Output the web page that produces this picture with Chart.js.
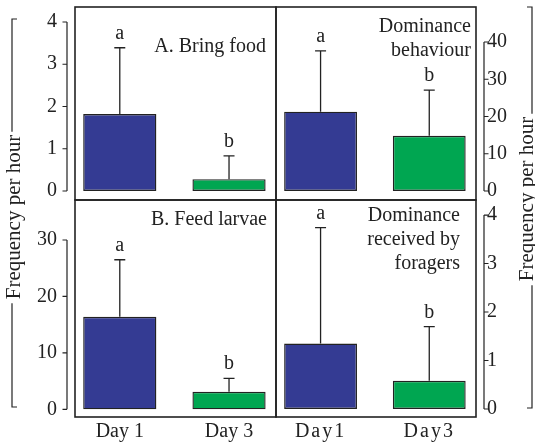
<!DOCTYPE html>
<html>
<head>
<meta charset="utf-8">
<script src="https://cdn.jsdelivr.net/npm/chart.js@4.4.1/dist/chart.umd.min.js"></script>
<style>
  html, body { margin: 0; padding: 0; background: #ffffff; }
  #wrap { position: relative; width: 535px; height: 442px; overflow: hidden; }
  #wrap canvas { position: absolute; left: 0; top: 0; }
</style>
</head>
<body>
<div id="wrap">
  <canvas id="panelA" width="535" height="442"></canvas>
  <canvas id="panelDom" width="535" height="442"></canvas>
  <canvas id="panelB" width="535" height="442"></canvas>
  <canvas id="panelRecv" width="535" height="442"></canvas>
</div>
<script>
// ---- data ----
const days = ['Day 1', 'Day 3'];
const daysTight = ['Day1', 'Day3'];
const groupLetters = ['a', 'b'];

const bringFood = [1.82, 0.28];
const bringFoodUpper = [3.39, 0.83];

const dominance = [21.3, 14.8];
const dominanceUpper = [37.6, 27.1];

const feedLarvae = [16.4, 3.1];
const feedLarvaeUpper = [26.5, 5.5];

const domReceived = [1.35, 0.58];
const domReceivedUpper = [3.74, 1.70];

const ticksBring = [0, 1, 2, 3, 4];
const ticksDom = [0, 10, 20, 30, 40];
const ticksFeed = [0, 10, 20, 30];
const ticksRecv = [0, 1, 2, 3, 4];

// ---- styling ----
const INK = '#222222';
const BLUE = '#343b93';
const GREEN = '#00a651';
const FONT = '"Liberation Serif", "Times New Roman", serif';
const W = 535, H = 442;

// frame, error bars, letters, axis spine and in-panel titles
const decor = {
  id: 'decor',
  afterDatasetsDraw(chart, args, o) {
    const ctx = chart.ctx;
    const area = chart.chartArea;
    const ys = chart.scales.y;
    const meta = chart.getDatasetMeta(0);
    ctx.save();
    ctx.letterSpacing = '0px';
    ctx.strokeStyle = INK;
    ctx.fillStyle = INK;

    // error bars and significance letters
    ctx.lineWidth = 1.3;
    ctx.font = '20px ' + FONT;
    ctx.textAlign = 'center';
    ctx.textBaseline = 'alphabetic';
    meta.data.forEach((bar, i) => {
      const top = ys.getPixelForValue(o.upper[i]);
      ctx.beginPath();
      ctx.moveTo(bar.x, bar.y);
      ctx.lineTo(bar.x, top);
      ctx.moveTo(bar.x - 5.5, top);
      ctx.lineTo(bar.x + 5.5, top);
      ctx.stroke();
      ctx.fillText(o.letters[i], bar.x, top - 9);
    });

    // panel frame
    ctx.lineWidth = 1.6;
    ctx.strokeRect(area.left, area.top, area.width, area.height);

    // free-standing axis spine with tick marks
    const t = o.ticks;
    const yTop = ys.getPixelForValue(t[t.length - 1]);
    const yBot = ys.getPixelForValue(t[0]);
    const ax = o.side === 'left' ? area.left - 8 : area.right + 8;
    const dir = o.side === 'left' ? -1 : 1;
    ctx.lineWidth = 1.2;
    ctx.beginPath();
    ctx.moveTo(ax, yTop);
    ctx.lineTo(ax, yBot);
    t.forEach(v => {
      const py = ys.getPixelForValue(v);
      ctx.moveTo(ax, py);
      ctx.lineTo(ax + dir * 4.5, py);
    });
    ctx.stroke();

    // panel title, right aligned inside the frame
    ctx.textAlign = 'right';
    ctx.textBaseline = 'middle';
    o.title.forEach((line, k) => {
      ctx.fillText(line, area.right - o.titleInset, area.top + o.titleTop + k * 24);
    });
    ctx.restore();
  }
};

// wider letter spacing for the compact day labels
const spacedText = {
  id: 'spacedText',
  beforeDraw(chart, args, o) { chart.ctx.letterSpacing = o.spacing || '0px'; },
  afterDraw(chart) { chart.ctx.letterSpacing = '0px'; }
};

// bracketed "Frequency per hour" labels on both sides of the figure
const sideLabels = {
  id: 'sideLabels',
  afterDraw(chart) {
    const ctx = chart.ctx;
    ctx.save();
    ctx.letterSpacing = '0px';
    ctx.strokeStyle = INK;
    ctx.fillStyle = INK;
    ctx.lineWidth = 1.2;
    ctx.font = '21px ' + FONT;
    const label = 'Frequency per hour';
    const len = ctx.measureText(label).width;

    const drawSide = (lineX, baseX, top, bottom, centerY, hook) => {
      const t0 = centerY - len / 2, t1 = centerY + len / 2;
      ctx.beginPath();
      ctx.moveTo(lineX + hook, top);
      ctx.lineTo(lineX, top);
      ctx.lineTo(lineX, t0 - 3);
      ctx.moveTo(lineX, t1 + 4);
      ctx.lineTo(lineX, bottom);
      ctx.lineTo(lineX + hook, bottom);
      ctx.stroke();
      ctx.save();
      ctx.translate(baseX, centerY);
      ctx.rotate(-Math.PI / 2);
      ctx.textAlign = 'center';
      ctx.textBaseline = 'alphabetic';
      ctx.fillText(label, 0, 0);
      ctx.restore();
    };
    drawSide(12, 20, 19, 407, 217, 5);
    drawSide(532, 533, 7, 408, 199, -5);
    ctx.restore();
  }
};

function makePanel(id, cfg) {
  const { values, upper, ticks, yMin, yMax, side, box, xLabels, title, titleInset, titleTop, spacing, extra } = cfg;
  const yWidth = side === 'left' ? box.l : W - box.r;
  const xHeight = xLabels ? 25 : 0;
  const padding = {
    left: side === 'left' ? 0 : box.l,
    right: side === 'left' ? W - box.r : 0,
    top: box.t,
    bottom: H - box.b - xHeight
  };
  const plugins = [spacedText, decor];
  if (extra) plugins.push(extra);
  return new Chart(document.getElementById(id), {
    type: 'bar',
    data: {
      datasets: [{
        data: values.map((v, i) => ({ x: i, y: v })),
        backgroundColor: [BLUE, GREEN],
        borderColor: INK,
        borderWidth: 1.4,
        borderSkipped: false,
        categoryPercentage: 1,
        barPercentage: 0.67
      }]
    },
    options: {
      responsive: false,
      animation: false,
      devicePixelRatio: 1,
      layout: { padding },
      plugins: {
        legend: { display: false },
        tooltip: { enabled: false },
        spacedText: { spacing: spacing || '0px' },
        decor: { upper, ticks, side, letters: groupLetters, title, titleInset, titleTop }
      },
      scales: {
        x: {
          type: 'linear',
          offset: false,
          bounds: 'data',
          min: -0.41,
          max: 1.43,
          display: !!xLabels,
          grid: { display: false, drawTicks: false, offset: false },
          border: { display: false },
          afterDataLimits: s => { s.min = -0.41; s.max = 1.43; },
          afterBuildTicks: s => { s.ticks = [{ value: 0 }, { value: 1 }]; },
          afterFit: s => { s.height = xHeight; s.paddingLeft = 0; s.paddingRight = 0; },
          ticks: {
            padding: 3,
            color: INK,
            font: { family: FONT, size: 20 },
            callback: v => (xLabels ? xLabels[v] : '')
          }
        },
        y: {
          type: 'linear',
          position: side,
          min: yMin,
          max: yMax,
          grid: { display: false, drawTicks: false },
          border: { display: false },
          afterBuildTicks: s => { s.ticks = ticks.map(v => ({ value: v })); },
          afterFit: s => { s.width = yWidth; s.paddingTop = 0; s.paddingBottom = 0; },
          ticks: {
            padding: side === 'left' ? 18 : 11,
            color: INK,
            font: { family: FONT, size: 20 },
            callback: v => String(v)
          }
        }
      }
    },
    plugins
  });
}

makePanel('panelA', {
  values: bringFood, upper: bringFoodUpper, ticks: ticksBring,
  yMin: -0.213, yMax: 4.355, side: 'left',
  box: { l: 75, t: 7, r: 276, b: 200 },
  title: ['A. Bring food'], titleInset: 10, titleTop: 40
});

makePanel('panelDom', {
  values: dominance, upper: dominanceUpper, ticks: ticksDom,
  yMin: -2.42, yMax: 49.4, side: 'right',
  box: { l: 276, t: 7, r: 476, b: 200 },
  title: ['Dominance', 'behaviour'], titleInset: 5, titleTop: 20
});

makePanel('panelB', {
  values: feedLarvae, upper: feedLarvaeUpper, ticks: ticksFeed,
  yMin: -1.36, yMax: 37.09, side: 'left',
  box: { l: 75, t: 200, r: 276, b: 417 },
  xLabels: days,
  title: ['B. Feed larvae'], titleInset: 9, titleTop: 20
});

makePanel('panelRecv', {
  values: domReceived, upper: domReceivedUpper, ticks: ticksRecv,
  yMin: -0.165, yMax: 4.31, side: 'right',
  box: { l: 276, t: 200, r: 476, b: 417 },
  xLabels: daysTight, spacing: '2px',
  title: ['Dominance', 'received by', 'foragers'], titleInset: 16, titleTop: 16,
  extra: sideLabels
});
</script>
</body>
</html>
